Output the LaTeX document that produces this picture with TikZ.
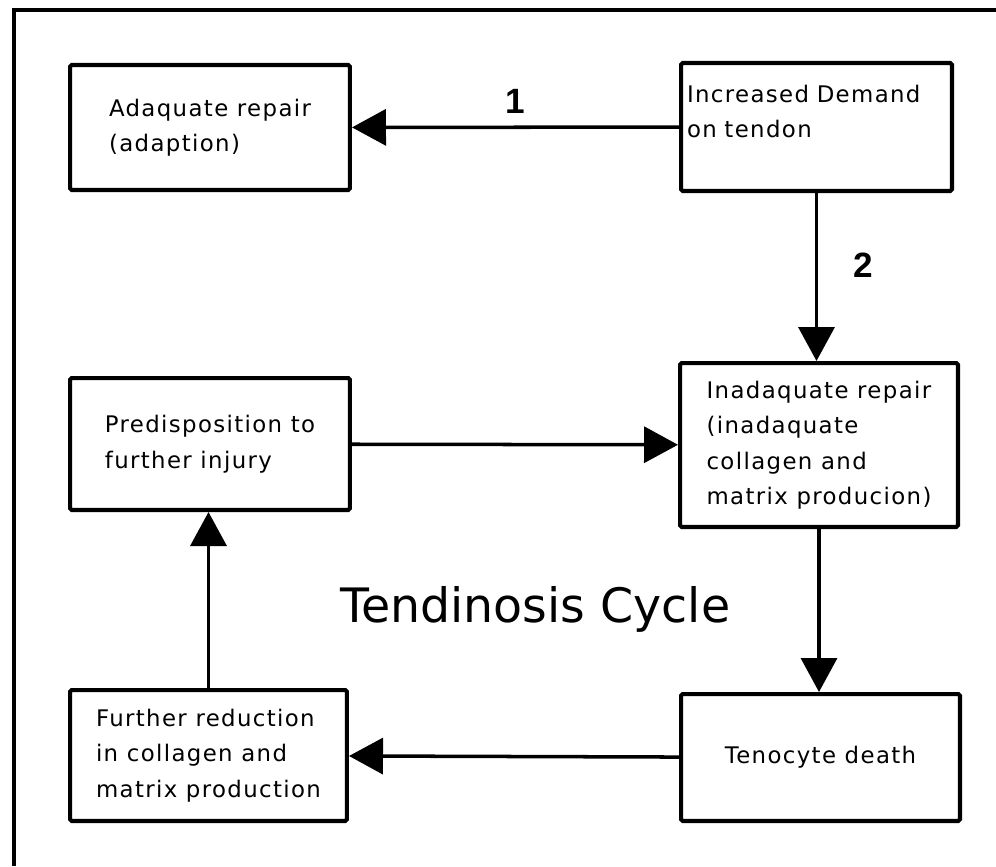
\documentclass[tikz,border=0pt]{standalone}
\usepackage{fontspec}
\setmainfont{DejaVu Sans}
\newfontfamily\boxfont[LetterSpace=6]{DejaVu Sans}
\newfontfamily\numfont{Liberation Sans}
\usetikzlibrary{arrows.meta}

\tikzset{
  box/.style={draw, line width=2.3pt, rounded corners=1pt, align=left, inner sep=0pt,
    font=\boxfont\fontsize{13}{20.2}\selectfont},
  arr/.style={line width=2pt, -{Triangle[length=0.68cm,width=0.72cm]}},
  num/.style={font=\numfont\bfseries\fontsize{20}{24}\selectfont}
}

\begin{document}
\begin{tikzpicture}[x=0.02cm, y=-0.02cm]
  \useasboundingbox (0,0) rectangle (996,866);

  % Outer frame (top and left edges only)
  \draw[line width=2.3pt] (996,10) -- (14,10) -- (14,866);

  % Top row
  \node[box, minimum width=5.6cm, minimum height=2.5cm] (adequate) at (210,127.5) {Adaquate repair\\(adaption)};
  \node[box, minimum width=5.42cm, minimum height=2.56cm, text width=5.18cm] (demand) at (816.5,127) {Increased Demand\\on tendon\\[-0.08cm]\mbox{}};

  % Middle row
  \node[box, minimum width=5.6cm, minimum height=2.64cm] (predisp) at (210,444) {Predisposition to\\further injury};
  \node[box, minimum width=5.56cm, minimum height=3.28cm] (inadequate) at (819,445) {Inadaquate repair\\(inadaquate\\collagen and\\matrix producion)};

  % Bottom row
  \node[box, minimum width=5.54cm, minimum height=2.62cm] (further) at (208.5,755.5) {Further reduction\\in collagen and\\matrix production};
  \node[box, minimum width=5.58cm, minimum height=2.54cm] (tenocyte) at (820.5,757.5) {Tenocyte death};

  % Title
  \node[anchor=base west, inner sep=0pt, font=\fontsize{27}{31}\selectfont] (title) at (340,622) {Tendinosis Cycle};

  % Arrows
  \draw[arr] (demand) -- node[num, above=0.12cm] (one) {1} (adequate);
  \draw[arr] (demand.south) -- node[num, pos=0.43, right=0.58cm] (two) {2} (demand.south |- inadequate.north);
  \draw[arr] (predisp) -- (inadequate);
  \draw[arr] (inadequate.south) -- (inadequate.south |- tenocyte.north);
  \draw[arr] (tenocyte) -- (further);
  \draw[arr] (further.north) -- (further.north |- predisp.south);
\end{tikzpicture}
\end{document}
